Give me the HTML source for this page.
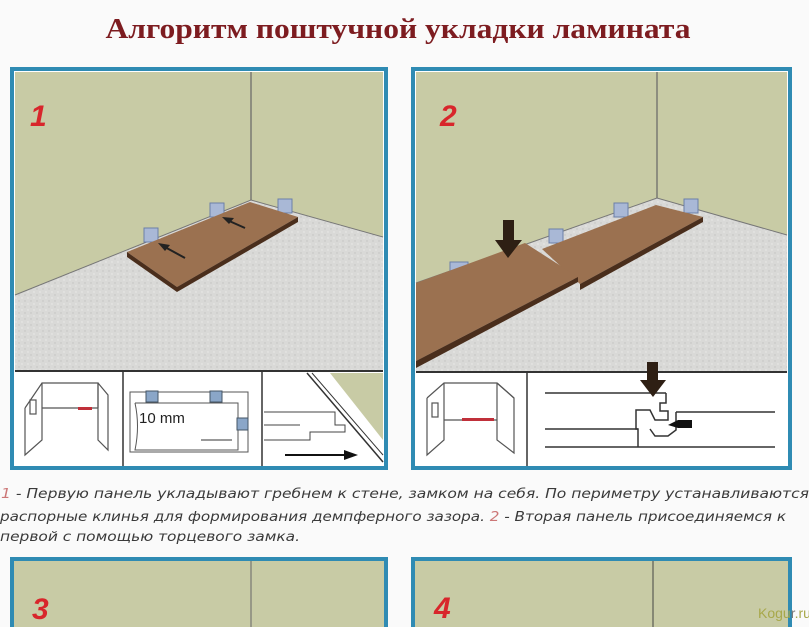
<!DOCTYPE html>
<html><head><meta charset="utf-8"><style>
html,body{margin:0;padding:0;background:#fafafa;}
svg{display:block;}
</style></head><body>
<svg width="809" height="627" viewBox="0 0 809 627" xmlns="http://www.w3.org/2000/svg">
<defs>
<pattern id="sp" width="6" height="6" patternUnits="userSpaceOnUse">
<rect width="6" height="6" fill="#d9d9d7"/>
<circle cx="1" cy="1" r="0.7" fill="#c2c2c0"/><circle cx="4" cy="4" r="0.7" fill="#ececea"/>
</pattern>
</defs>
<rect width="809" height="627" fill="#fafafa"/>
<text x="398" y="38" text-anchor="middle" font-family="Liberation Serif, serif" font-weight="bold" font-size="28" fill="#7d1c20" textLength="585" lengthAdjust="spacingAndGlyphs">Алгоритм поштучной укладки ламината</text>

<!-- Panel 1 -->
<rect x="12" y="69" width="374" height="399" fill="#fff" stroke="#2f8bb3" stroke-width="4"/>
<rect x="15" y="72" width="368" height="298" fill="#c8cba5"/>
<polygon points="15,295 251,200 383,237 383,370 15,370" fill="url(#sp)"/>
<polyline points="15,295 251,200 383,237" fill="none" stroke="#777" stroke-width="1"/>
<line x1="251" y1="72" x2="251" y2="200" stroke="#666" stroke-width="1.2"/>
<rect x="144" y="228" width="14" height="14" fill="#a9b8d6" stroke="#6b7fa8"/>
<rect x="210" y="203" width="14" height="14" fill="#a9b8d6" stroke="#6b7fa8"/>
<rect x="278" y="199" width="14" height="14" fill="#a9b8d6" stroke="#6b7fa8"/>
<polygon points="127,252 250,202 298,217 177,287" fill="#9b7150"/>
<polygon points="127,252 177,287 177,292 127,257" fill="#4a2e1c"/>
<polygon points="177,287 298,217 298,222 177,292" fill="#4a2e1c"/>
<line x1="185" y1="258" x2="163" y2="246" stroke="#222" stroke-width="2"/><polygon points="158,243 170,245 165,251" fill="#222"/>
<line x1="245" y1="228" x2="227" y2="220" stroke="#222" stroke-width="2"/><polygon points="222,217 234,218 229,224" fill="#222"/>
<text x="30" y="126" font-family="Liberation Sans, sans-serif" font-weight="bold" font-style="italic" font-size="30" fill="#d8262b">1</text>
<line x1="15" y1="371" x2="383" y2="371" stroke="#333" stroke-width="2"/>
<line x1="123" y1="371" x2="123" y2="466" stroke="#333" stroke-width="1.5"/>
<line x1="262" y1="371" x2="262" y2="466" stroke="#333" stroke-width="1.5"/>
<g fill="none" stroke="#555" stroke-width="1.2">
<polyline points="25,408 42,383 98,383 98,408"/><polyline points="25,408 25,455 42,440 42,383"/>
<line x1="42" y1="408" x2="98" y2="408"/><polyline points="98,383 108,395 108,450 98,440 98,383"/>
<rect x="30" y="400" width="6" height="14"/>
</g>
<rect x="78" y="407" width="14" height="3" fill="#c0303a"/>
<g fill="none" stroke="#555" stroke-width="1">
<rect x="130" y="392" width="118" height="60"/>
<path d="M135,403 H238 V450 H135 Q140,426 135,403"/>
</g>
<rect x="146" y="391" width="12" height="11" fill="#8aa6c8" stroke="#456"/>
<rect x="210" y="391" width="12" height="11" fill="#8aa6c8" stroke="#456"/>
<rect x="237" y="418" width="11" height="12" fill="#8aa6c8" stroke="#456"/>
<text x="139" y="423" font-family="Liberation Sans, sans-serif" font-size="15" fill="#222">10 mm</text>
<line x1="201" y1="440" x2="232" y2="440" stroke="#333"/>
<line x1="307" y1="373" x2="383" y2="462" stroke="#333" stroke-width="1.5"/>
<line x1="312" y1="373" x2="383" y2="455" stroke="#333" stroke-width="1"/>
<polygon points="330,373 383,373 383,440" fill="#c8cba5"/>
<path d="M264,412 H335 V425 H345 V432 H310 V440 H264" fill="none" stroke="#444"/>
<line x1="264" y1="425" x2="300" y2="425" stroke="#444"/>
<line x1="285" y1="455" x2="345" y2="455" stroke="#111" stroke-width="2"/><polygon points="358,455 344,450 344,460" fill="#111"/>

<!-- Panel 2 -->
<rect x="413" y="69" width="377" height="399" fill="#fff" stroke="#2f8bb3" stroke-width="4"/>
<rect x="416" y="72" width="371" height="299" fill="#c8cba5"/>
<polygon points="416,283 657,198 787,235 787,371 416,371" fill="url(#sp)"/>
<polyline points="416,283 657,198 787,235" fill="none" stroke="#777"/>
<line x1="657" y1="72" x2="657" y2="198" stroke="#666" stroke-width="1.2"/>
<rect x="450" y="262" width="18" height="10" fill="#a9b8d6" stroke="#6b7fa8"/>
<rect x="549" y="229" width="14" height="14" fill="#a9b8d6" stroke="#6b7fa8"/>
<rect x="614" y="203" width="14" height="14" fill="#a9b8d6" stroke="#6b7fa8"/>
<rect x="684" y="199" width="14" height="14" fill="#a9b8d6" stroke="#6b7fa8"/>
<polygon points="542,249 656,205 703,217 580,284" fill="#9b7150"/>
<polygon points="580,284 703,217 703,222 580,290" fill="#4a2e1c"/>
<polygon points="416,283 525,243 578,277 416,361" fill="#9b7150"/>
<polygon points="416,361 578,277 578,282 416,368" fill="#4a2e1c"/>
<rect x="503" y="220" width="11" height="22" fill="#2e1f14"/><polygon points="495,240 522,240 508,258" fill="#2e1f14"/>
<text x="440" y="126" font-family="Liberation Sans, sans-serif" font-weight="bold" font-style="italic" font-size="30" fill="#d8262b">2</text>
<line x1="416" y1="372" x2="787" y2="372" stroke="#333" stroke-width="2"/>
<line x1="527" y1="372" x2="527" y2="466" stroke="#333" stroke-width="1.5"/>
<g fill="none" stroke="#555" stroke-width="1.2">
<polyline points="427,398 444,383 497,383 514,398"/><polyline points="427,398 427,455 444,440 444,383"/>
<line x1="444" y1="420" x2="497" y2="420"/><polyline points="497,383 514,398 514,453 497,440 497,383"/>
<rect x="432" y="403" width="6" height="14"/>
</g>
<rect x="462" y="418" width="32" height="3" fill="#c0303a"/>
<g fill="none" stroke="#333" stroke-width="1.5">
<line x1="545" y1="393" x2="666" y2="393"/>
<line x1="676" y1="412" x2="775" y2="412"/>
<line x1="545" y1="429" x2="638" y2="429"/>
<line x1="545" y1="447" x2="775" y2="447"/>
<path d="M666,393 V403 H660 V411 H668 V420 H655 L650,410 H636 V429 H638 V447"/>
<path d="M676,412 V430 L668,436 H655 L650,429"/>
</g>
<rect x="647" y="362" width="11" height="20" fill="#2e1f14"/><polygon points="640,380 666,380 653,397" fill="#2e1f14"/>
<polygon points="668,425 678,420 692,420 692,428 678,428" fill="#111"/>

<g font-family="DejaVu Sans, Liberation Sans, sans-serif" font-style="italic" font-size="13" fill="#3a3a3a">
<text x="1" y="498" textLength="808" lengthAdjust="spacingAndGlyphs"><tspan fill="#c77">1</tspan> - Первую панель укладывают гребнем к стене, замком на себя. По периметру устанавливаются</text>
<text x="0" y="521" textLength="786" lengthAdjust="spacingAndGlyphs">распорные клинья для формирования демпферного зазора. <tspan fill="#c77">2</tspan> - Вторая панель присоединяемся к</text>
<text x="0" y="541" textLength="300" lengthAdjust="spacingAndGlyphs">первой с помощью торцевого замка.</text>
</g>

<rect x="12" y="559" width="374" height="80" fill="#c8cba5" stroke="#2f8bb3" stroke-width="4"/>
<line x1="251" y1="561" x2="251" y2="627" stroke="#666"/>
<text x="32" y="619" font-family="Liberation Sans, sans-serif" font-weight="bold" font-style="italic" font-size="30" fill="#d8262b">3</text>
<rect x="413" y="559" width="377" height="80" fill="#c8cba5" stroke="#2f8bb3" stroke-width="4"/>
<line x1="653" y1="561" x2="653" y2="627" stroke="#444"/>
<text x="434" y="618" font-family="Liberation Sans, sans-serif" font-weight="bold" font-style="italic" font-size="30" fill="#d8262b">4</text>
<text x="758" y="618" font-family="Liberation Sans, sans-serif" font-size="14" fill="#a8a84a">Kogu<tspan fill="#777">r</tspan>.ru</text>
</svg>
</body></html>
